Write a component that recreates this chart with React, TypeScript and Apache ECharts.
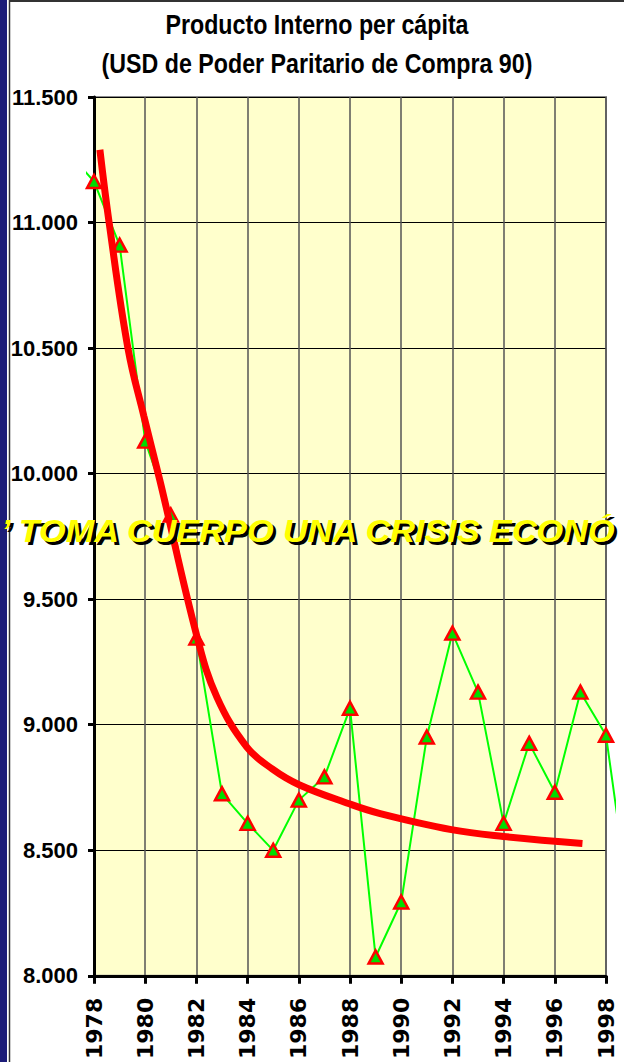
import React, { useEffect, useRef } from 'react';
import * as echarts from 'echarts';

// ---- data ----
const years = [1977, 1978, 1979, 1980, 1981, 1982, 1983, 1984, 1985, 1986, 1987, 1988, 1989, 1990, 1991, 1992, 1993, 1994, 1995, 1996, 1997, 1998, 1999];
const gdpPerCapita = [11280, 11165, 10913, 10136, 9843, 9355, 8738, 8621, 8514, 8713, 8805, 9077, 8091, 8309, 8963, 9375, 9141, 8621, 8938, 8744, 9141, 8970, 8240];

const trendYears = [1978.23, 1978.59, 1979.33, 1979.95, 1980.58, 1982.03, 1982.8, 1983.97, 1984.96, 1986.01, 1987.97, 1989.18, 1991.96, 1993.99, 1997.08];
const trendValues = [11290, 11000, 10497, 10228, 9970, 9348, 9110, 8911, 8824, 8761, 8685, 8646, 8582, 8555, 8527];

const titleLines = ['Producto Interno per cápita', '(USD de Poder Paritario de Compra 90)'];
const overlayText = '’ TOMA CUERPO UNA CRISIS ECONÓ';

const W = 624;
const H = 1062;

const fmtThousands = (v: number) => {
  const s = String(Math.round(v));
  return s.length > 3 ? s.slice(0, s.length - 3) + '.' + s.slice(-3) : s;
};

export default function App() {
  const ref = useRef<HTMLDivElement>(null);

  useEffect(() => {
    if (!ref.current) return;
    const chart = echarts.init(ref.current, null, { renderer: 'svg', width: W, height: H });

    const plotLeft = 94;
    const plotRight = 18;
    const pxPerYear = (W - plotLeft - plotRight) / 20;
    const sans = 'Liberation Sans, Arial, sans-serif';

    const option: any = {
      animation: false,
      backgroundColor: '#ffffff',
      grid: [
        {
          left: plotLeft, right: plotRight, top: 97, bottom: 82,
          show: true, backgroundColor: '#FFFFCC', borderColor: '#8c8c8c', borderWidth: 2,
        },
        { left: 87, right: 9, top: 97, bottom: 82, show: false },
      ],
      xAxis: [
        {
          gridIndex: 0, type: 'value', min: 1978, max: 1998, interval: 2,
          axisLine: { show: true, onZero: false, lineStyle: { color: '#000', width: 3 } },
          axisTick: { show: true, length: 8, lineStyle: { color: '#000', width: 3 } },
          axisLabel: {
            rotate: 90, margin: 22, color: '#000', fontFamily: 'DejaVu Sans', fontWeight: 'bold', fontSize: 22,
            formatter: (v: number) => String(v),
          },
          splitLine: { show: true, lineStyle: { color: '#555', width: 1.5 } },
        },
        {
          gridIndex: 1, type: 'value', show: false,
          min: 1978 - 7 / pxPerYear, max: 1998 + 9 / pxPerYear,
        },
      ],
      yAxis: [
        {
          gridIndex: 0, type: 'value', min: 8000, max: 11500, interval: 500,
          axisLine: { show: true, onZero: false, lineStyle: { color: '#000', width: 3 } },
          axisTick: { show: true, length: 6, lineStyle: { color: '#000', width: 3 } },
          axisLabel: {
            margin: 16, color: '#000', fontFamily: sans, fontWeight: 'bold', fontSize: 22,
            formatter: fmtThousands,
          },
          splitLine: { show: true, lineStyle: { color: '#000', width: 1 } },
        },
        { gridIndex: 1, type: 'value', min: 8000, max: 11500, show: false },
      ],
      series: [
        {
          type: 'line', xAxisIndex: 1, yAxisIndex: 1, clip: true,
          data: years.map((y, i) => [y, gdpPerCapita[i]]),
          symbol: 'triangle', symbolSize: [14, 13], showAllSymbol: true,
          itemStyle: { color: '#00DD00', borderColor: '#FF0000', borderWidth: 2.5 },
          lineStyle: { color: '#00FF00', width: 2 },
          z: 2,
        },
        {
          type: 'line', xAxisIndex: 0, yAxisIndex: 0,
          data: trendYears.map((y, i) => [y, trendValues[i]]),
          symbol: 'none', showSymbol: false, smooth: 0.4,
          lineStyle: { color: '#FF0000', width: 7, cap: 'butt' },
          z: 3,
        },
      ],
      graphic: [
        { type: 'rect', shape: { x: 0, y: 0, width: 7, height: H }, style: { fill: '#1C1C78' }, z: 50 },
        { type: 'line', shape: { x1: 9.5, y1: 0, x2: 9.5, y2: H }, style: { stroke: '#333', lineWidth: 1.5 }, z: 50 },
        { type: 'line', shape: { x1: 9, y1: 1, x2: W, y2: 1 }, style: { stroke: '#333', lineWidth: 2 }, z: 50 },
        {
          type: 'text', x: 317, y: 24, scaleX: 0.86, z: 50,
          style: { text: titleLines[0], fill: '#000', fontFamily: sans, fontWeight: 'bold', fontSize: 27, align: 'center', verticalAlign: 'middle' },
        },
        {
          type: 'text', x: 317, y: 63, scaleX: 0.86, z: 50,
          style: { text: titleLines[1], fill: '#000', fontFamily: sans, fontWeight: 'bold', fontSize: 27, align: 'center', verticalAlign: 'middle' },
        },
        {
          type: 'text', x: 4, y: 534, scaleX: 1.07, z: 60,
          style: { text: overlayText, fill: '#000', fontFamily: sans, fontWeight: 'bold', fontStyle: 'italic', fontSize: 32, align: 'left', verticalAlign: 'middle' },
        },
        {
          type: 'text', x: 1, y: 531, scaleX: 1.07, z: 61,
          style: { text: overlayText, fill: '#FFFF00', fontFamily: sans, fontWeight: 'bold', fontStyle: 'italic', fontSize: 32, align: 'left', verticalAlign: 'middle' },
        },
      ],
    };

    chart.setOption(option);
    return () => chart.dispose();
  }, []);

  return <div ref={ref} style={{ position: 'absolute', left: 0, top: 0, width: W, height: H }} />;
}
